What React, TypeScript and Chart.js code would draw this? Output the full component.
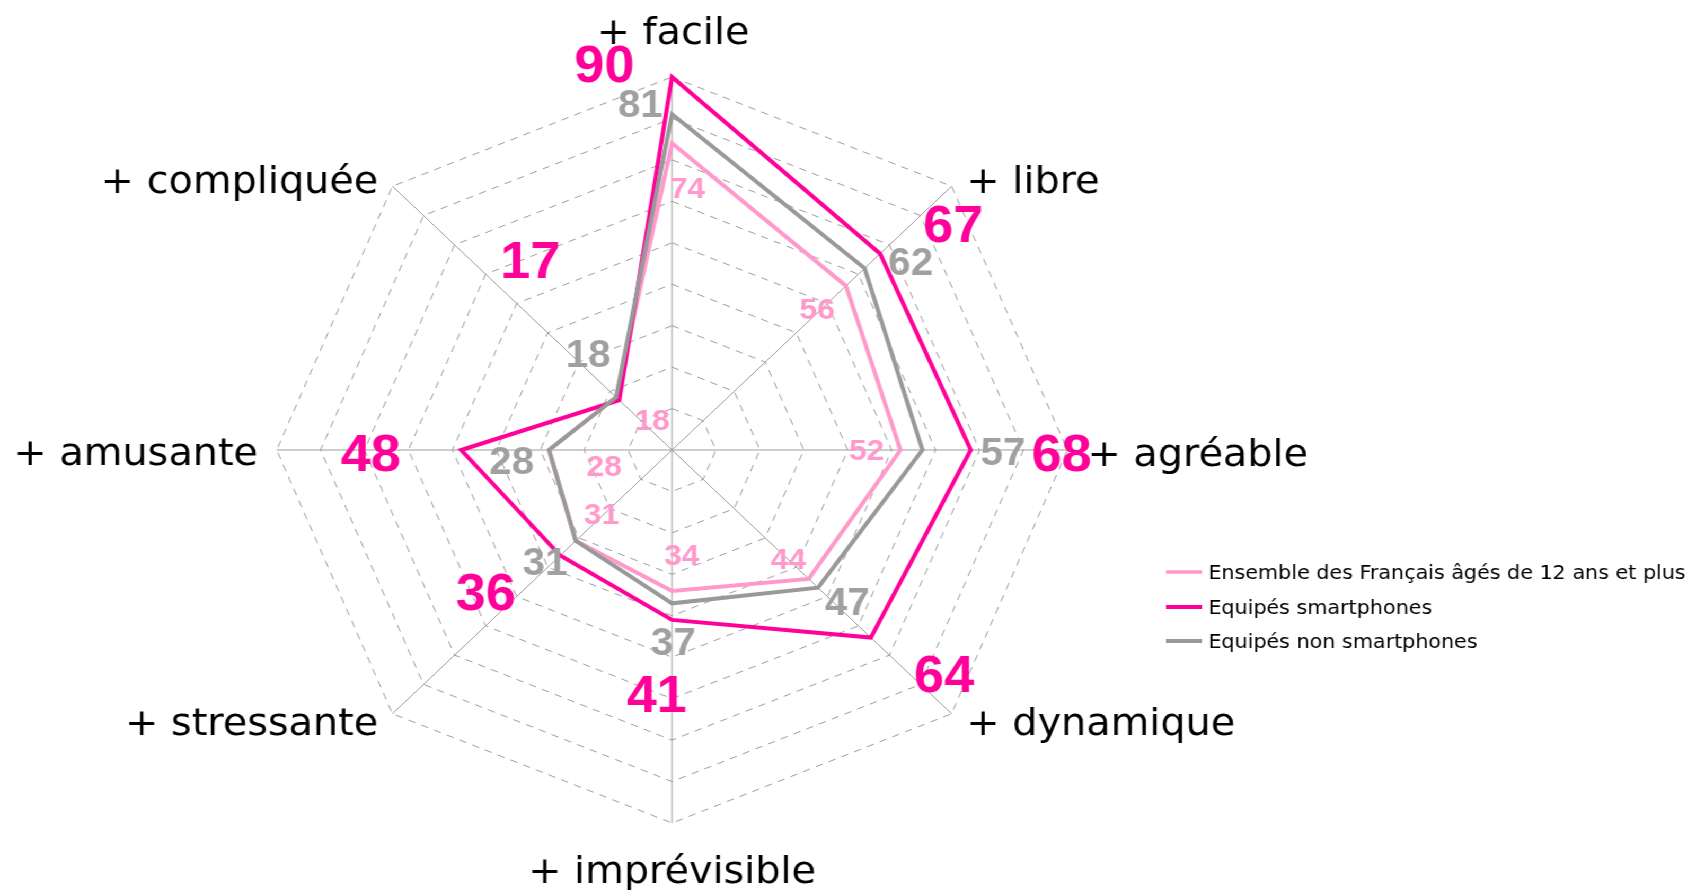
import React, { useEffect, useRef } from 'react';
import { Chart, registerables } from 'chart.js';

Chart.register(...registerables);

// ---------- data ----------
const categories = [
  '+ facile',
  '+ libre',
  '+ agréable',
  '+ dynamique',
  '+ imprévisible',
  '+ stressante',
  '+ amusante',
  '+ compliquée',
];
const seriesNames = [
  'Ensemble des Français âgés de 12 ans et plus',
  'Equipés smartphones',
  'Equipés non smartphones',
];
const ensembleValues = [74, 56, 52, 44, 34, 31, 28, 18];
const smartphoneValues = [90, 67, 68, 64, 41, 36, 48, 17];
const nonSmartphoneValues = [81, 62, 57, 47, 37, 31, 28, 18];
const scaleMin = 0;
const scaleMax = 90;
const scaleStep = 10;

// ---------- styles / layout ----------
const STRETCH = 1.06;
const W = 1594;
const H = 890;
const PINK = '#ff99cc';
const MAGENTA = '#ff0099';
const GRAY = '#999999';
const GRAY_LABEL = '#a0a0a0';
const GRID = '#9c9c9c';

// offsets (px) of the value labels from their data point
const ensembleLabelOffsets = [
  [14.6, 44.2], [-27.1, 22.4], [-31.9, -1], [-19.2, -20.6],
  [9.1, -36.9], [24.4, -27.5], [52.1, 15.7], [34.1, 21.7],
];
const smartphoneLabelOffsets = [
  [-63.8, -13.7], [69, -30.4], [85.7, 2.7], [69.1, 35.8],
  [-14.5, 73.4], [-70.2, 36.2], [-85.3, 2.5], [-83.9, -140.4],
];
const nonSmartphoneLabelOffsets = [
  [-29.8, -11], [43.5, -6.6], [75.9, 1.7], [27.6, 14],
  [1.2, 38.4], [-29, 20.9], [-35.3, 10.7], [-26.3, -44],
];

// category label placement relative to the outer vertex
const categoryPlacement: { dx: number; dy: number; align: CanvasTextAlign }[] = [
  { dx: 1, dy: -33, align: 'center' },
  { dx: 14, dy: 6.7, align: 'left' },
  { dx: 19, dy: 16, align: 'left' },
  { dx: 14, dy: 21.3, align: 'left' },
  { dx: 0, dy: 60, align: 'center' },
  { dx: -13.4, dy: 21.3, align: 'right' },
  { dx: -17.6, dy: 15, align: 'right' },
  { dx: -13.4, dy: 7, align: 'right' },
];

const seriesStyles = [
  { values: ensembleValues, color: PINK, labelColor: PINK, fontSize: 30, offsets: ensembleLabelOffsets, order: 3, legendWidth: 3.5 },
  { values: smartphoneValues, color: MAGENTA, labelColor: MAGENTA, fontSize: 51, offsets: smartphoneLabelOffsets, order: 2, legendWidth: 4 },
  { values: nonSmartphoneValues, color: GRAY, labelColor: GRAY_LABEL, fontSize: 38, offsets: nonSmartphoneLabelOffsets, order: 1, legendWidth: 4 },
];

const legendRowsY = [572, 607, 641];
const legendLineX = [1100, 1134];
const legendTextX = 1140;

const textPlugin = {
  id: 'radarTexts',
  afterDraw(chart: any) {
    const ctx: CanvasRenderingContext2D = chart.ctx;
    const scale = chart.scales.r;
    ctx.save();

    // category labels
    ctx.fillStyle = '#000000';
    ctx.font = '37.5px "DejaVu Sans"';
    ctx.textBaseline = 'alphabetic';
    categories.forEach((label, i) => {
      const p = scale.getPointPosition(i, scale.drawingArea);
      const pl = categoryPlacement[i];
      ctx.textAlign = pl.align;
      ctx.fillText(label, p.x + pl.dx, p.y + pl.dy);
    });

    // value labels
    ctx.textAlign = 'center';
    [0, 2, 1].forEach((si) => {
      const s = seriesStyles[si];
      ctx.font = `bold ${s.fontSize}px "Liberation Sans"`;
      ctx.fillStyle = s.labelColor;
      s.values.forEach((v, i) => {
        const p = scale.getPointPositionForValue(i, v);
        const [dx, dy] = s.offsets[i];
        ctx.fillText(String(v), p.x + dx, p.y + dy + s.fontSize * 0.358);
      });
    });

    // legend
    ctx.font = '19.5px "DejaVu Sans"';
    ctx.textAlign = 'left';
    ctx.fillStyle = '#000000';
    seriesNames.forEach((name, i) => {
      const y = legendRowsY[i];
      const s = seriesStyles[i];
      ctx.strokeStyle = s.color;
      ctx.lineWidth = s.legendWidth;
      ctx.setLineDash([]);
      ctx.beginPath();
      ctx.moveTo(legendLineX[0], y);
      ctx.lineTo(legendLineX[1], y);
      ctx.stroke();
      ctx.fillText(name, legendTextX, y + 19.5 * 0.36);
    });

    ctx.restore();
  },
};

export default function App() {
  const ref = useRef<HTMLCanvasElement>(null);

  useEffect(() => {
    document.body.style.margin = '0';
    document.body.style.overflow = 'hidden';
    const chart = new Chart(ref.current as HTMLCanvasElement, {
      type: 'radar',
      data: {
        labels: categories,
        datasets: seriesStyles.map((s, i) => ({
          label: seriesNames[i],
          data: s.values,
          borderColor: s.color,
          backgroundColor: s.color,
          borderWidth: 4,
          borderJoinStyle: 'miter',
          fill: false,
          pointRadius: 0,
          pointHoverRadius: 0,
          tension: 0,
          order: s.order,
        })),
      },
      options: {
        responsive: false,
        animation: false,
        events: [],
        layout: { padding: { left: 261, right: 586, top: 77, bottom: 66 } },
        plugins: {
          legend: { display: false },
          tooltip: { enabled: false },
          title: { display: false },
        },
        scales: {
          r: {
            min: scaleMin,
            max: scaleMax,
            ticks: { display: false, stepSize: scaleStep },
            pointLabels: { display: false },
            grid: { color: GRID, lineWidth: 1 },
            border: { dash: [7, 6] },
            angleLines: { color: GRID, lineWidth: 1 },
          },
        },
      } as any,
      plugins: [textPlugin],
    });
    return () => chart.destroy();
  }, []);

  return (
    <div
      style={{
        position: 'fixed',
        left: 0,
        top: 0,
        width: W,
        height: H,
        transform: `scaleX(${STRETCH})`,
        transformOrigin: '0 0',
        background: '#ffffff',
      }}
    >
      <canvas ref={ref} width={W} height={H} style={{ display: 'block', width: W, height: H }} />
    </div>
  );
}
